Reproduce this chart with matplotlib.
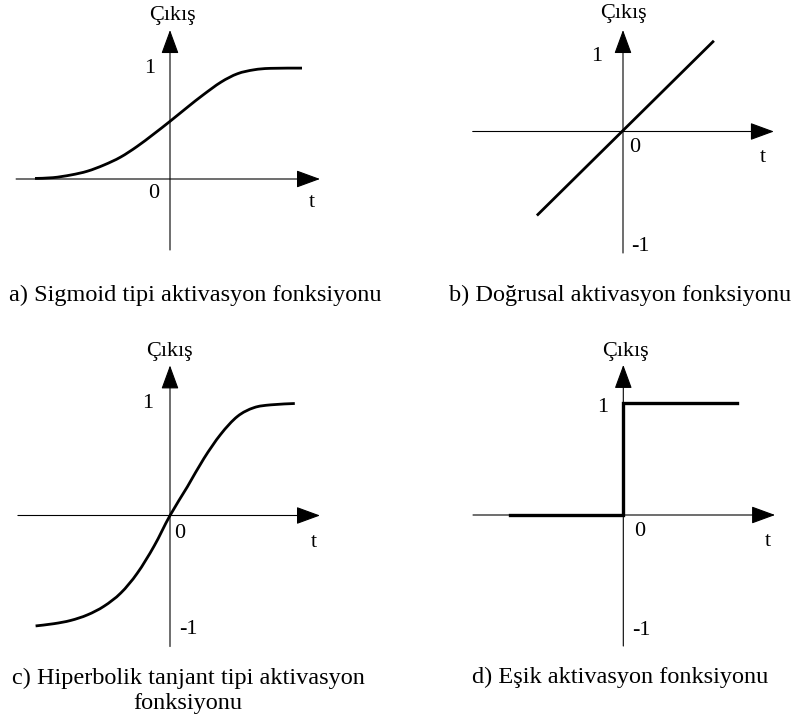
import numpy as np
import matplotlib
matplotlib.use('Agg')
import matplotlib.pyplot as plt
from matplotlib.path import Path
from matplotlib.patches import PathPatch

plt.rcParams['font.family'] = ['Liberation Serif', 'DejaVu Serif']

# sigmoid curve (t, output)
sig_t = [-4.5, -3.9, -3.3, -2.75, -2.2, -1.65, -1.1, -0.55, 0.0, 0.6, 1.1, 1.7, 2.25, 2.8, 3.35, 4.4]
sig_y = [0.005, 0.012, 0.036, 0.07, 0.125, 0.195, 0.29, 0.4, 0.515, 0.645, 0.75, 0.865, 0.94, 0.975, 0.988, 0.99]

# linear function end points
lin_t = [-2.87, 3.03]
lin_y = [-0.75, 0.81]

# hyperbolic tangent curve
tanh_t = [-4.48, -3.87, -3.31, -2.75, -2.2, -1.64, -1.09, -0.53, 0.0, 0.58, 1.13, 1.69, 2.25, 2.8, 3.36, 4.16]
tanh_y = [-0.986, -0.966, -0.937, -0.887, -0.81, -0.692, -0.515, -0.273, 0.0, 0.257, 0.509, 0.725, 0.885, 0.963, 0.988, 1.0]

# threshold (step) function
step_t = [-3.78, 0.0, 0.0, 3.78]
step_y = [0.0, 0.0, 1.0, 1.0]

captions = ['a) Sigmoid tipi aktivasyon fonksiyonu',
            'b) Doğrusal aktivasyon fonksiyonu',
            'c) Hiperbolik tanjant tipi aktivasyon',
            'fonksiyonu',
            'd) Eşik aktivasyon fonksiyonu']

W, H = 803, 724
PX_T, PX_Y = 30.0, 112.0   # pixels per unit on t and output axes

fig = plt.figure(figsize=(W / 100, H / 100), dpi=100)


def panel(ox, oy, box):
    x0, y0, x1, y1 = box
    ax = fig.add_axes([x0 / W, 1 - y1 / H, (x1 - x0) / W, (y1 - y0) / H])
    ax.set_xlim((x0 - ox) / PX_T, (x1 - ox) / PX_T)
    ax.set_ylim((oy - y1) / PX_Y, (oy - y0) / PX_Y)
    ax.axis('off')
    return ax


def arrow_axes(ax, xl, xr, yb, yt):
    style = '-|>,head_length=1.5,head_width=0.55'
    kw = dict(arrowstyle=style, lw=0.8, color='black', mutation_scale=10,
              shrinkA=0, shrinkB=0)
    ax.annotate('', xy=(xr, 0), xytext=(xl, 0), arrowprops=kw)
    ax.annotate('', xy=(0, yt), xytext=(0, yb), arrowprops=kw)


def smooth_curve(ax, xs, ys, lw=2.0):
    # cubic Bezier path through the read points (Catmull-Rom control points)
    p = np.column_stack([xs, ys])
    verts = [p[0]]
    codes = [Path.MOVETO]
    for i in range(len(p) - 1):
        p0 = p[i - 1] if i > 0 else p[i]
        p3 = p[i + 2] if i + 2 < len(p) else p[i + 1]
        c1 = p[i] + (p[i + 1] - p0) / 6
        c2 = p[i + 1] - (p3 - p[i]) / 6
        verts += [c1, c2, p[i + 1]]
        codes += [Path.CURVE4] * 3
    ax.add_patch(PathPatch(Path(verts, codes), fill=False, lw=lw,
                           edgecolor='black', capstyle='butt'))


def labels(ax, items):
    for x, y, s in items:
        ax.text(x, y, s, fontsize=16, ha='center', va='center')


# a) sigmoid
ax = panel(170, 179, (0, 0, 400, 340))
arrow_axes(ax, -5.13, 5.0, -0.634, 1.33)
smooth_curve(ax, sig_t, sig_y)
labels(ax, [(0.07, 1.46, 'Çıkış'), (-0.67, 0.99, '1'), (-0.53, -0.13, '0'), (4.73, -0.21, 't')])

# b) linear
ax = panel(623, 131.5, (403, 0, 803, 340))
arrow_axes(ax, -5.01, 5.03, -1.085, 0.906)
ax.plot(lin_t, lin_y, color='black', lw=2.0, solid_capstyle='butt')
labels(ax, [(0.0, 1.05, 'Çıkış'), (-0.87, 0.674, '1'), (0.4, -0.147, '0'),
            (4.67, -0.228, 't'), (0.57, -1.03, '-1')])

# c) tanh
ax = panel(170, 515.5, (0, 340, 400, 724))
arrow_axes(ax, -5.07, 5.0, -1.17, 1.34)
smooth_curve(ax, tanh_t, tanh_y)
labels(ax, [(-0.03, 1.46, 'Çıkış'), (-0.73, 1.0, '1'), (0.33, -0.157, '0'),
            (4.8, -0.24, 't'), (0.6, -1.02, '-1')])

# d) step
ax = panel(623.3, 515, (403, 340, 803, 724))
arrow_axes(ax, -5.01, 5.06, -1.17, 1.34)
ax.plot(step_t, step_y, color='black', lw=2.4, solid_joinstyle='miter')
labels(ax, [(0.06, 1.46, 'Çıkış'), (-0.69, 0.96, '1'), (0.56, -0.15, '0'),
            (4.82, -0.24, 't'), (0.61, -1.03, '-1')])

# captions
fig.text(195 / W, 1 - 295 / H, captions[0], fontsize=17.5, ha='center', va='center')
fig.text(620 / W, 1 - 295 / H, captions[1], fontsize=17.5, ha='center', va='center')
fig.text(188 / W, 1 - 678 / H, captions[2], fontsize=17.5, ha='center', va='center')
fig.text(188 / W, 1 - 703 / H, captions[3], fontsize=17.5, ha='center', va='center')
fig.text(620 / W, 1 - 677 / H, captions[4], fontsize=17.5, ha='center', va='center')

fig.savefig('out.png', dpi=100)
